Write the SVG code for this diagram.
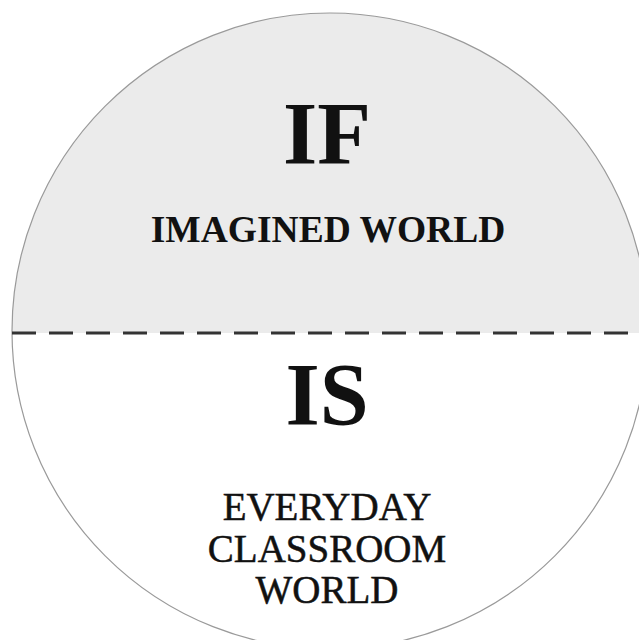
<svg xmlns="http://www.w3.org/2000/svg" width="639" height="640" viewBox="0 0 639 640">
  <defs>
    <style>
      .t { font-family: "Liberation Serif", "Times New Roman", serif; fill: #111111; text-anchor: middle; }
      .big { font-size: 88px; font-weight: bold; }
      .mid { font-size: 37.5px; font-weight: bold; }
      .low { font-size: 39px; stroke: #111111; stroke-width: 0.5; }
    </style>
    <clipPath id="top">
      <rect x="0" y="0" width="639" height="333"/>
    </clipPath>
  </defs>
  <rect width="639" height="640" fill="#ffffff"/>
  <g id="circle">
    <circle cx="330" cy="331" r="318" fill="#ffffff"/>
    <circle cx="330" cy="331" r="318" fill="#ebebeb" clip-path="url(#top)"/>
    <circle cx="330" cy="331" r="318" fill="none" stroke="#9a9a9a" stroke-width="1.2"/>
  </g>
  <g id="divider">
    <line x1="12" y1="333" x2="639" y2="333" stroke="#333" stroke-width="3" stroke-dasharray="24 13"/>
  </g>
  <g id="if-node">
    <text class="t big" x="327" y="163">IF</text>
    <text class="t mid" x="328" y="242">IMAGINED WORLD</text>
  </g>
  <g id="is-node">
    <text class="t big" x="327" y="424">IS</text>
    <text class="t low" x="327" y="520">EVERYDAY</text>
    <text class="t low" x="327" y="562">CLASSROOM</text>
    <text class="t low" x="327" y="603">WORLD</text>
  </g>
</svg>
